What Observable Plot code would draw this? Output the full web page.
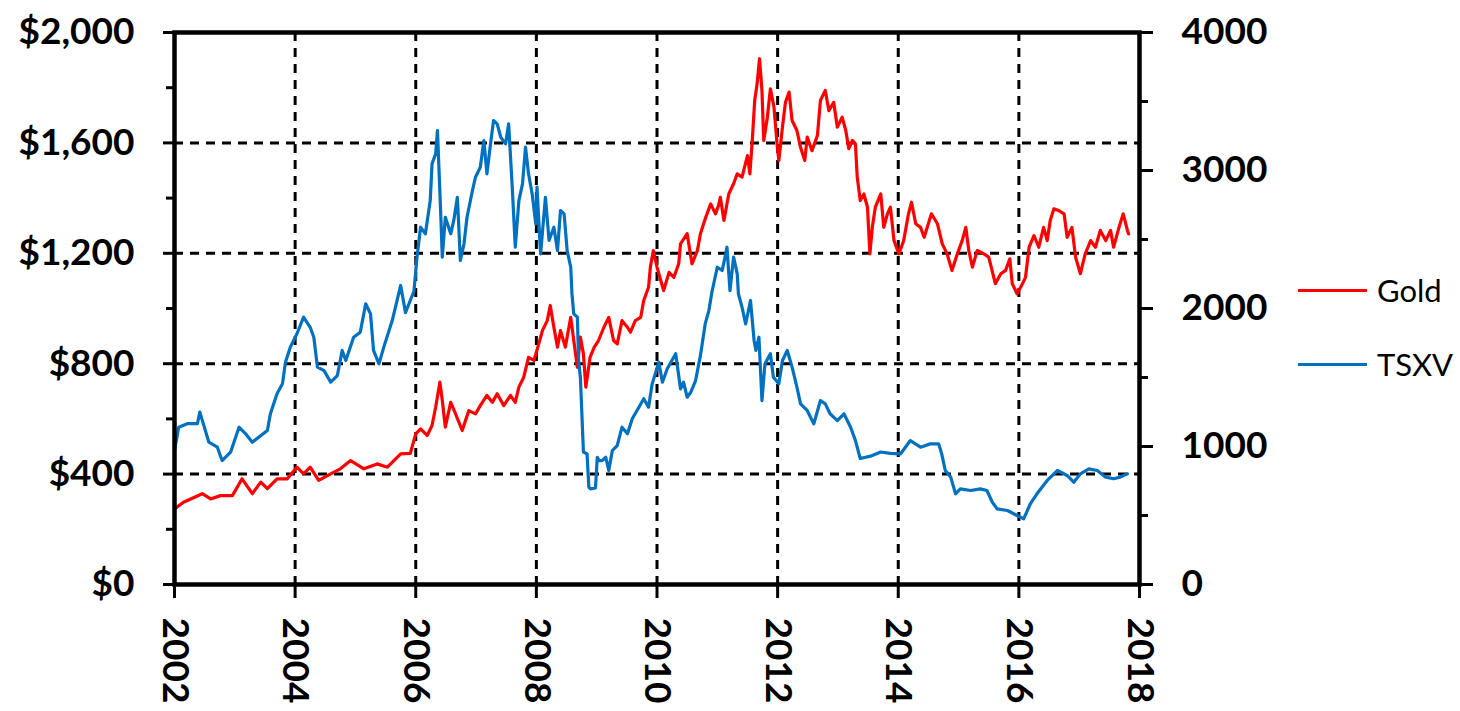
<!DOCTYPE html>
<html><head><meta charset="utf-8">
<script src="https://cdn.jsdelivr.net/npm/d3@7"></script>
<script src="https://cdn.jsdelivr.net/npm/@observablehq/plot@0.6"></script>
<style>
html,body{margin:0;padding:0;background:#fff;}
#wrap{position:relative;width:1460px;height:711px;overflow:hidden;}
#legend{position:absolute;left:1298px;top:270px;font-family:Lato,sans-serif;font-size:31px;color:#000;}
.item{display:flex;align-items:center;height:40px;}
.item + .item{margin-top:34px;}
.swatch{width:69px;height:3px;margin-right:10px;}
</style></head>
<body><div id="wrap"><div id="chart"></div><div id="legend"></div></div>
<script>
// ---- data ----
const goldYears = [2002.00,2002.15,2002.46,2002.60,2002.76,2002.96,2003.12,2003.29,2003.43,2003.54,2003.70,2003.87,2004.03,2004.14,2004.25,2004.39,2004.59,2004.75,2004.92,2005.14,2005.36,2005.53,2005.75,2005.91,2006.00,2006.08,2006.19,2006.27,2006.33,2006.40,2006.44,2006.49,2006.58,2006.66,2006.77,2006.88,2006.99,2007.07,2007.18,2007.27,2007.35,2007.46,2007.57,2007.65,2007.71,2007.79,2007.87,2007.96,2008.04,2008.10,2008.18,2008.23,2008.29,2008.35,2008.40,2008.48,2008.57,2008.62,2008.68,2008.73,2008.78,2008.82,2008.89,2008.96,2009.03,2009.12,2009.20,2009.28,2009.34,2009.42,2009.51,2009.56,2009.64,2009.73,2009.78,2009.86,2009.89,2009.94,2010.00,2010.11,2010.20,2010.28,2010.36,2010.39,2010.50,2010.58,2010.67,2010.72,2010.80,2010.89,2010.97,2011.02,2011.05,2011.11,2011.19,2011.27,2011.33,2011.41,2011.50,2011.54,2011.58,2011.62,2011.66,2011.70,2011.74,2011.77,2011.83,2011.88,2011.94,2011.99,2012.02,2012.08,2012.13,2012.19,2012.24,2012.32,2012.38,2012.45,2012.49,2012.57,2012.66,2012.71,2012.79,2012.85,2012.93,2012.99,2013.07,2013.13,2013.18,2013.24,2013.29,2013.32,2013.37,2013.43,2013.49,2013.53,2013.57,2013.62,2013.71,2013.76,2013.82,2013.87,2013.93,2014.01,2014.09,2014.17,2014.22,2014.29,2014.37,2014.43,2014.55,2014.65,2014.73,2014.81,2014.89,2014.98,2015.06,2015.12,2015.17,2015.23,2015.31,2015.42,2015.50,2015.61,2015.70,2015.78,2015.85,2015.89,2015.97,2016.06,2016.11,2016.17,2016.25,2016.33,2016.41,2016.47,2016.52,2016.58,2016.66,2016.75,2016.80,2016.88,2016.94,2017.02,2017.10,2017.19,2017.27,2017.35,2017.44,2017.52,2017.57,2017.66,2017.73,2017.80,2017.82];
const goldPrices = [274,298,329,310,322,322,383,329,371,347,383,383,425,401,425,377,401,419,449,419,437,425,473,475,546,564,540,576,642,733,667,570,660,618,558,630,618,648,685,660,691,648,685,660,715,751,823,812,872,920,956,1011,932,860,920,860,968,884,787,896,836,715,823,860,884,932,968,884,872,956,932,914,956,968,1029,1077,1150,1210,1150,1065,1131,1113,1162,1234,1271,1162,1210,1271,1325,1379,1343,1373,1403,1319,1415,1452,1488,1476,1554,1488,1609,1754,1814,1905,1790,1609,1693,1796,1729,1597,1536,1657,1747,1784,1681,1645,1584,1536,1621,1572,1627,1754,1790,1717,1747,1657,1693,1645,1579,1609,1597,1476,1391,1415,1367,1198,1294,1367,1415,1294,1343,1367,1246,1198,1246,1343,1385,1307,1294,1258,1343,1307,1234,1198,1138,1198,1246,1294,1210,1150,1210,1198,1186,1090,1126,1138,1180,1090,1053,1090,1113,1222,1264,1222,1294,1246,1319,1361,1355,1343,1258,1294,1186,1126,1198,1246,1222,1283,1246,1283,1222,1294,1343,1283,1270];

const tsxvYears = [2002.00,2002.07,2002.22,2002.38,2002.42,2002.57,2002.71,2002.79,2002.93,2003.07,2003.18,2003.29,2003.54,2003.59,2003.70,2003.79,2003.84,2003.92,2004.03,2004.14,2004.25,2004.31,2004.37,2004.48,2004.59,2004.70,2004.78,2004.84,2004.97,2005.08,2005.17,2005.25,2005.30,2005.39,2005.47,2005.61,2005.75,2005.83,2005.97,2006.02,2006.08,2006.16,2006.24,2006.27,2006.33,2006.36,2006.41,2006.44,2006.49,2006.58,2006.63,2006.69,2006.74,2006.80,2006.85,2006.94,2006.99,2007.07,2007.13,2007.18,2007.24,2007.29,2007.35,2007.41,2007.49,2007.54,2007.60,2007.65,2007.71,2007.77,2007.82,2007.87,2007.93,2007.99,2008.01,2008.07,2008.15,2008.21,2008.29,2008.35,2008.40,2008.46,2008.51,2008.57,2008.59,2008.62,2008.68,2008.70,2008.73,2008.78,2008.84,2008.87,2008.90,2008.98,2009.01,2009.04,2009.09,2009.15,2009.20,2009.26,2009.34,2009.42,2009.51,2009.59,2009.70,2009.78,2009.86,2009.92,2010.03,2010.09,2010.17,2010.31,2010.39,2010.44,2010.50,2010.56,2010.64,2010.72,2010.80,2010.86,2010.91,2011.00,2011.08,2011.14,2011.16,2011.21,2011.27,2011.33,2011.35,2011.41,2011.47,2011.55,2011.61,2011.64,2011.69,2011.74,2011.79,2011.88,2011.93,2012.02,2012.08,2012.16,2012.24,2012.32,2012.38,2012.49,2012.60,2012.71,2012.79,2012.87,2012.99,2013.10,2013.21,2013.29,2013.37,2013.54,2013.71,2013.87,2014.04,2014.20,2014.37,2014.53,2014.67,2014.72,2014.78,2014.87,2014.95,2015.03,2015.20,2015.36,2015.47,2015.56,2015.64,2015.81,2015.97,2016.08,2016.19,2016.30,2016.47,2016.64,2016.80,2016.91,2017.02,2017.16,2017.30,2017.44,2017.57,2017.68,2017.80];
const tsxvValues = [971,1140,1166,1166,1249,1031,995,898,959,1140,1092,1031,1116,1237,1382,1454,1611,1720,1817,1937,1864,1792,1575,1550,1466,1514,1696,1623,1792,1828,2034,1961,1696,1599,1720,1913,2167,1970,2125,2370,2589,2541,2782,3048,3121,3290,2734,2372,2661,2541,2638,2806,2348,2469,2661,2855,2951,3024,3217,2976,3193,3362,3338,3241,3193,3338,2879,2444,2782,2903,3169,2976,2831,2613,2879,2396,2806,2493,2589,2420,2710,2686,2420,2299,2106,1961,1937,1623,1500,960,947,705,693,700,922,898,898,922,826,971,1007,1140,1092,1201,1285,1346,1285,1454,1611,1466,1563,1672,1418,1466,1357,1393,1478,1660,1890,1985,2118,2299,2275,2396,2444,2130,2372,2251,2106,2009,1889,2058,1768,1696,1792,1333,1599,1672,1502,1454,1623,1696,1575,1430,1309,1261,1164,1333,1309,1237,1188,1237,1140,1043,913,930,960,950,947,1043,995,1019,1019,947,826,778,657,693,681,693,681,596,548,536,500,476,585,657,754,826,790,741,802,838,826,778,766,778,802];

const seriesNames = ["Gold", "TSXV"];
const seriesColors = ["#FF0000", "#0070C0"];

const yearTicks = [2002, 2004, 2006, 2008, 2010, 2012, 2014, 2016, 2018];
const gridYears = [2004, 2006, 2008, 2010, 2012, 2014, 2016];
const leftTicks = [0, 400, 800, 1200, 1600, 2000];
const leftMinorTicks = [200, 600, 1000, 1400, 1800];
const gridDollars = [400, 800, 1200, 1600];
const rightTicks = [0, 1000, 2000, 3000, 4000];
const rightMinorTicks = [500, 1500, 2500, 3500];
const leftMax = 2000, rightMax = 4000;

// ---- build ----
const k = leftMax / rightMax; // right-axis units -> left-axis units
const gold = goldYears.map((t, i) => ({year: t, value: goldPrices[i]}));
const tsxv = tsxvYears.map((t, i) => ({year: t, value: tsxvValues[i] * k}));
const dollar = d => "$" + d3.format(",")(d);
const font = {fontFamily: "Lato", fontSize: 37, fontWeight: "bold", fill: "black"};

const chart = Plot.plot({
  width: 1280, height: 711,
  marginLeft: 174, marginRight: 141, marginTop: 32, marginBottom: 127,
  x: {domain: [2002, 2018], label: null},
  y: {domain: [0, leftMax], label: null},
  style: {fontFamily: "Lato", fontSize: "37px", fontWeight: "bold", color: "black", background: "white", overflow: "visible"},
  marks: [
    Plot.ruleY(gridDollars, {stroke: "black", strokeWidth: 3, strokeDasharray: "9,7"}),
    Plot.ruleX(gridYears, {stroke: "black", strokeWidth: 3, strokeDasharray: "9,7"}),
    Plot.line(gold, {x: "year", y: "value", stroke: seriesColors[0], strokeWidth: 3.2}),
    Plot.line(tsxv, {x: "year", y: "value", stroke: seriesColors[1], strokeWidth: 3.2}),
    Plot.axisY(leftMinorTicks, {anchor: "left", tickSize: 8, strokeWidth: 3, tickFormat: () => ""}),
    Plot.axisY(leftTicks, {anchor: "left", tickSize: 11, tickPadding: 29, strokeWidth: 3, tickFormat: dollar, ...font}),
    Plot.axisY(rightMinorTicks.map(d => d * k), {anchor: "right", tickSize: 8, strokeWidth: 3, tickFormat: () => ""}),
    Plot.axisY(rightTicks.map(d => d * k), {anchor: "right", tickSize: 13, tickPadding: 29, strokeWidth: 3, tickFormat: d => String(Math.round(d / k)), ...font}),
    Plot.axisX(yearTicks, {anchor: "bottom", tickSize: 14, tickPadding: 19, tickRotate: 90, strokeWidth: 3, tickFormat: "d", ...font}),
    Plot.frame({stroke: "black", strokeWidth: 4.5})
  ]
});
document.getElementById("chart").appendChild(chart);

const legend = document.getElementById("legend");
seriesNames.forEach((name, i) => {
  const item = document.createElement("div");
  item.className = "item";
  const sw = document.createElement("div");
  sw.className = "swatch";
  sw.style.background = seriesColors[i];
  const label = document.createElement("span");
  label.textContent = name;
  item.appendChild(sw);
  item.appendChild(label);
  legend.appendChild(item);
});
</script>
</body></html>
